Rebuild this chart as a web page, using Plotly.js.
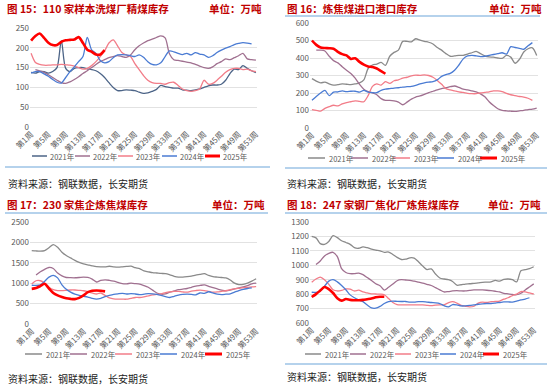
<!DOCTYPE html>
<html><head><meta charset="utf-8">
<script src="https://cdn.plot.ly/plotly-3.0.1.min.js"></script>
<style>html,body{margin:0;padding:0;background:#fff}#chart{width:550px;height:386px}</style>
</head><body><div id="chart"></div>
<script>
// ---------- data ----------
const weeks = Array.from({length:53},(_,i)=>'第'+(i+1)+'周');
const tickWeeks = weeks.filter((_,i)=>i%4===0);
const years = ['2021年','2022年','2023年','2024年','2025年'];

const c15_2021 = [138,136,140,140,136,140,150,218,148,140,148,150,150,147,145,142,135,125,112,100,92,92,94,93,92,88,85,86,90,95,105,102,100,98,98,94,93,92,94,96,100,104,106,106,108,118,135,146,145,155,148,142,137];
const c15_2022 = [null,145,142,138,132,125,118,112,110,114,120,127,135,142,150,158,165,170,175,178,180,178,176,182,195,205,212,218,222,226,230,225,185,170,168,166,164,162,158,154,150,148,152,160,165,172,170,175,180,186,172,170,169];
const c15_2023 = [186,163,158,156,156,157,157,158,157,156,154,150,146,148,155,165,178,192,212,220,205,188,182,178,160,145,130,118,112,110,110,108,112,113,105,96,92,90,92,96,118,108,110,118,128,138,145,148,148,145,146,142,140];
const c15_2024 = [136,140,140,134,128,120,113,111,125,140,152,165,178,226,195,186,168,162,165,175,182,183,182,180,178,182,176,165,158,157,162,178,192,190,186,183,186,182,188,184,182,176,180,188,194,199,203,208,211,213,212,210,null];
const c15_2025 = [218,230,236,225,213,207,207,215,219,220,221,227,212,195,190,183,183,194];

const c16_2021 = [282,268,258,262,252,245,248,252,250,248,252,258,275,340,360,365,375,358,410,432,445,495,495,492,510,502,495,490,480,460,445,425,410,412,415,415,422,430,438,425,412,406,405,400,398,415,405,370,392,434,453,458,415];
const c16_2022 = [null,445,445,440,410,385,372,350,330,312,285,250,222,208,200,190,168,158,158,155,148,133,148,165,177,183,192,202,210,218,225,230,236,240,232,222,218,212,206,195,178,150,128,110,101,98,96,95,98,101,105,108,114];
const c16_2023 = [105,101,96,112,122,130,126,138,145,150,155,152,150,185,238,252,245,265,255,270,275,285,290,298,302,301,304,300,290,272,250,225,218,212,206,203,198,196,196,200,204,207,212,212,208,198,190,185,180,177,170,158,null];
const c16_2024 = [158,180,200,215,185,205,206,212,208,210,210,205,215,205,202,202,215,222,225,228,230,234,236,238,244,252,258,262,265,275,295,305,312,330,360,395,412,415,412,408,410,415,420,425,430,422,465,460,455,450,470,488,null];
const c16_2025 = [500,475,460,457,456,453,435,422,415,395,398,378,362,352,348,340,325,310];

const c17_2021 = [1800,1790,1785,1800,1870,1945,1880,1760,1680,1620,1560,1510,1475,1450,1425,1405,1400,1400,1415,1400,1392,1400,1410,1417,1380,1358,1300,1280,1260,1250,1240,1233,1205,1170,1150,1150,1160,1175,1200,1215,1233,1190,1160,1150,1140,1130,1080,1000,967,970,1000,1050,1108];
const c17_2022 = [null,1200,1280,1340,1385,1360,1250,1180,1140,1135,1133,1140,1150,1140,1100,1030,1070,1083,1070,1050,1020,990,985,1000,990,975,942,900,830,760,730,740,780,810,840,855,870,900,930,945,958,925,890,860,830,815,830,860,885,910,940,985,1000];
const c17_2023 = [980,1060,1060,1000,900,840,820,818,825,833,833,825,815,790,760,735,760,700,640,615,608,608,608,630,650,650,665,690,715,725,740,770,790,800,800,785,780,805,820,830,820,800,780,785,800,815,840,860,875,890,900,910,918];
const c17_2024 = [950,945,960,1050,1150,1190,1130,960,850,780,730,700,680,660,630,612,630,670,700,725,740,750,735,745,735,720,730,745,740,725,700,670,650,680,710,725,730,725,715,760,750,790,760,730,720,730,740,780,820,850,870,885,null];
const c17_2025 = [860,880,930,985,870,760,700,660,630,615,610,640,700,780,815,820,815,800];

const c18_2021 = [1200,1190,1150,1145,1165,1205,1192,1170,1158,1145,1122,1118,1128,1122,1112,1105,1100,1090,1092,1075,1055,1040,1042,1052,1050,1024,995,970,975,940,912,905,900,888,862,865,870,872,875,878,882,883,885,895,890,902,905,900,885,962,970,977,990];
const c18_2022 = [null,1005,1030,1065,1083,1090,1060,977,950,942,942,946,935,915,895,872,858,828,848,870,893,900,898,896,890,883,876,868,860,845,830,815,818,822,824,822,822,826,829,829,829,827,824,820,815,806,802,798,796,806,829,850,871];
const c18_2023 = [883,905,918,900,868,830,822,826,836,835,822,828,815,808,802,801,800,796,770,742,728,726,726,726,726,726,725,722,720,724,726,726,740,748,738,722,716,712,716,738,745,742,748,749,752,765,775,790,800,818,816,808,801];
const c18_2024 = [813,813,822,855,890,900,885,860,830,795,775,760,748,725,705,703,715,735,748,752,750,749,749,745,745,748,748,745,742,740,735,720,712,728,725,718,719,722,726,730,733,735,735,738,742,746,746,745,752,760,766,775,null];
const c18_2025 = [780,800,825,850,835,808,772,755,766,760,758,758,760,765,770,778,782,782];

const titles = ['图 15：110 家样本洗煤厂精煤库存','图 16：炼焦煤进口港口库存','图 17：230 家焦企炼焦煤库存','图 18：247 家钢厂焦化厂炼焦煤库存'];
const unitText = '单位：万吨';
const sourceText = '资料来源：钢联数据，长安期货';

// ---------- styling / layout ----------
const W = 550, H = 386;
const px = x => x / W, py = y => 1 - y / H;
const colors15 = ['#4c6487','#a07090','#f27c88','#4a7bd3','#ff0000'];
const colorsOther = ['#8a8a8a','#a07090','#f27c88','#4a7bd3','#ff0000'];
const widths = [1.3,1.3,1.3,1.3,2.6];

const panels = [
  {series:[c15_2021,c15_2022,c15_2023,c15_2024,c15_2025], colors:colors15,
   xd:[30,257], yd:[127,28], yr:[0,250], dt:50, xr:[-0.25,52.25],
   title:{x:5,y:9}, unit:{x:264,y:9}, src:{x:6,y:183},
   leg:{y:156, starts:[32,75,118,162,205], len:15, gap:16},
   seps:[[5,270,167]]},
  {series:[c16_2021,c16_2022,c16_2023,c16_2024,c16_2025], colors:colorsOther,
   xd:[310,538], yd:[128,23], yr:[0,600], dt:100, xr:[-0.45,52.3],
   title:{x:285,y:9}, unit:{x:544,y:9}, src:{x:285,y:183},
   leg:{y:158, starts:[308,351,393,437,480], len:17, gap:19},
   seps:[[285,540,16],[285,547,168]]},
  {series:[c17_2021,c17_2022,c17_2023,c17_2024,c17_2025], colors:colorsOther,
   xd:[30,257], yd:[324,222], yr:[0,2500], dt:500, xr:[-0.4,52.2],
   title:{x:5,y:204}, unit:{x:267,y:204}, src:{x:6,y:378},
   leg:{y:354, starts:[25,70,115,160,205], len:17, gap:19},
   seps:[[5,268,213]]},
  {series:[c18_2021,c18_2022,c18_2023,c18_2024,c18_2025], colors:colorsOther,
   xd:[310,535], yd:[323,222], yr:[600,1300], dt:100, xr:[-0.4,52.3],
   title:{x:285,y:204}, unit:{x:543,y:204}, src:{x:285,y:376},
   leg:{y:354, starts:[305,350,395,440,483], len:16, gap:18},
   seps:[[285,547,213],[285,547,364]]}
];

const traces = [], shapes = [], annotations = [];
const layout = {
  width: W, height: H, margin:{l:0,r:0,t:0,b:0},
  paper_bgcolor:'#fff', plot_bgcolor:'#fff', showlegend:false,
  font:{family:'"Noto Sans CJK SC","Noto Sans",sans-serif', color:'#595959'}
};

panels.forEach((p, k) => {
  const n = k === 0 ? '' : String(k + 1);
  p.series.forEach((vals, i) => {
    traces.push({
      type:'scatter', mode:'lines', name: years[i],
      x: weeks.slice(0, vals.length), y: vals,
      xaxis:'x' + n, yaxis:'y' + n,
      line:{color:p.colors[i], width:widths[i], shape:'spline', smoothing:0.8},
      connectgaps:false, hoverinfo:'skip'
    });
  });
  layout['xaxis' + n] = {
    domain:[px(p.xd[0]), px(p.xd[1])], anchor:'y' + n, type:'category',
    categoryorder:'array', categoryarray:weeks,
    range:p.xr, tickmode:'array', tickvals:tickWeeks, ticktext:tickWeeks,
    tickangle:-45, tickfont:{size:8, color:'#595959'},
    showgrid:false, zeroline:false, showline:false, ticks:'', fixedrange:true
  };
  layout['yaxis' + n] = {
    domain:[py(p.yd[0]), py(p.yd[1])], anchor:'x' + n,
    range:p.yr, dtick:p.dt, tick0:0, gridcolor:'#e2e2e2', gridwidth:1,
    zeroline:false, showline:false, ticks:'', tickfont:{size:8, color:'#595959'},
    fixedrange:true
  };
  // titles
  annotations.push({xref:'paper', yref:'paper', x:px(p.title.x), y:py(p.title.y), xanchor:'left', yanchor:'middle',
    text:'<b>' + titles[k] + '</b>', showarrow:false, font:{size:10.5, color:'#c00000', family:'"Noto Sans CJK SC",sans-serif'}});
  annotations.push({xref:'paper', yref:'paper', x:px(p.unit.x), y:py(p.unit.y), xanchor:'right', yanchor:'middle',
    text:'<b>' + unitText + '</b>', showarrow:false, font:{size:10.5, color:'#c00000', family:'"Noto Sans CJK SC",sans-serif'}});
  annotations.push({xref:'paper', yref:'paper', x:px(p.src.x), y:py(p.src.y), xanchor:'left', yanchor:'middle',
    text:sourceText, showarrow:false, font:{size:10, color:'#222', family:'"Noto Sans CJK SC",sans-serif'}});
  // separators
  p.seps.forEach(s => shapes.push({type:'line', xref:'paper', yref:'paper',
    x0:px(s[0]), x1:px(s[1]), y0:py(s[2]), y1:py(s[2]), line:{color:'#9dc3e6', width:1.5}}));
  // legend
  years.forEach((yname, i) => {
    const x0 = p.leg.starts[i];
    shapes.push({type:'line', xref:'paper', yref:'paper', x0:px(x0), x1:px(x0 + p.leg.len),
      y0:py(p.leg.y), y1:py(p.leg.y), line:{color:p.colors[i], width: i === 4 ? 3 : 1.5}});
    annotations.push({xref:'paper', yref:'paper', x:px(x0 + p.leg.gap), y:py(p.leg.y), xanchor:'left', yanchor:'middle',
      text:yname, showarrow:false, font:{size:7.5, color:'#595959'}});
  });
});

layout.shapes = shapes;
layout.annotations = annotations;
Plotly.newPlot('chart', traces, layout, {displayModeBar:false, staticPlot:true});
</script>
</body></html>
